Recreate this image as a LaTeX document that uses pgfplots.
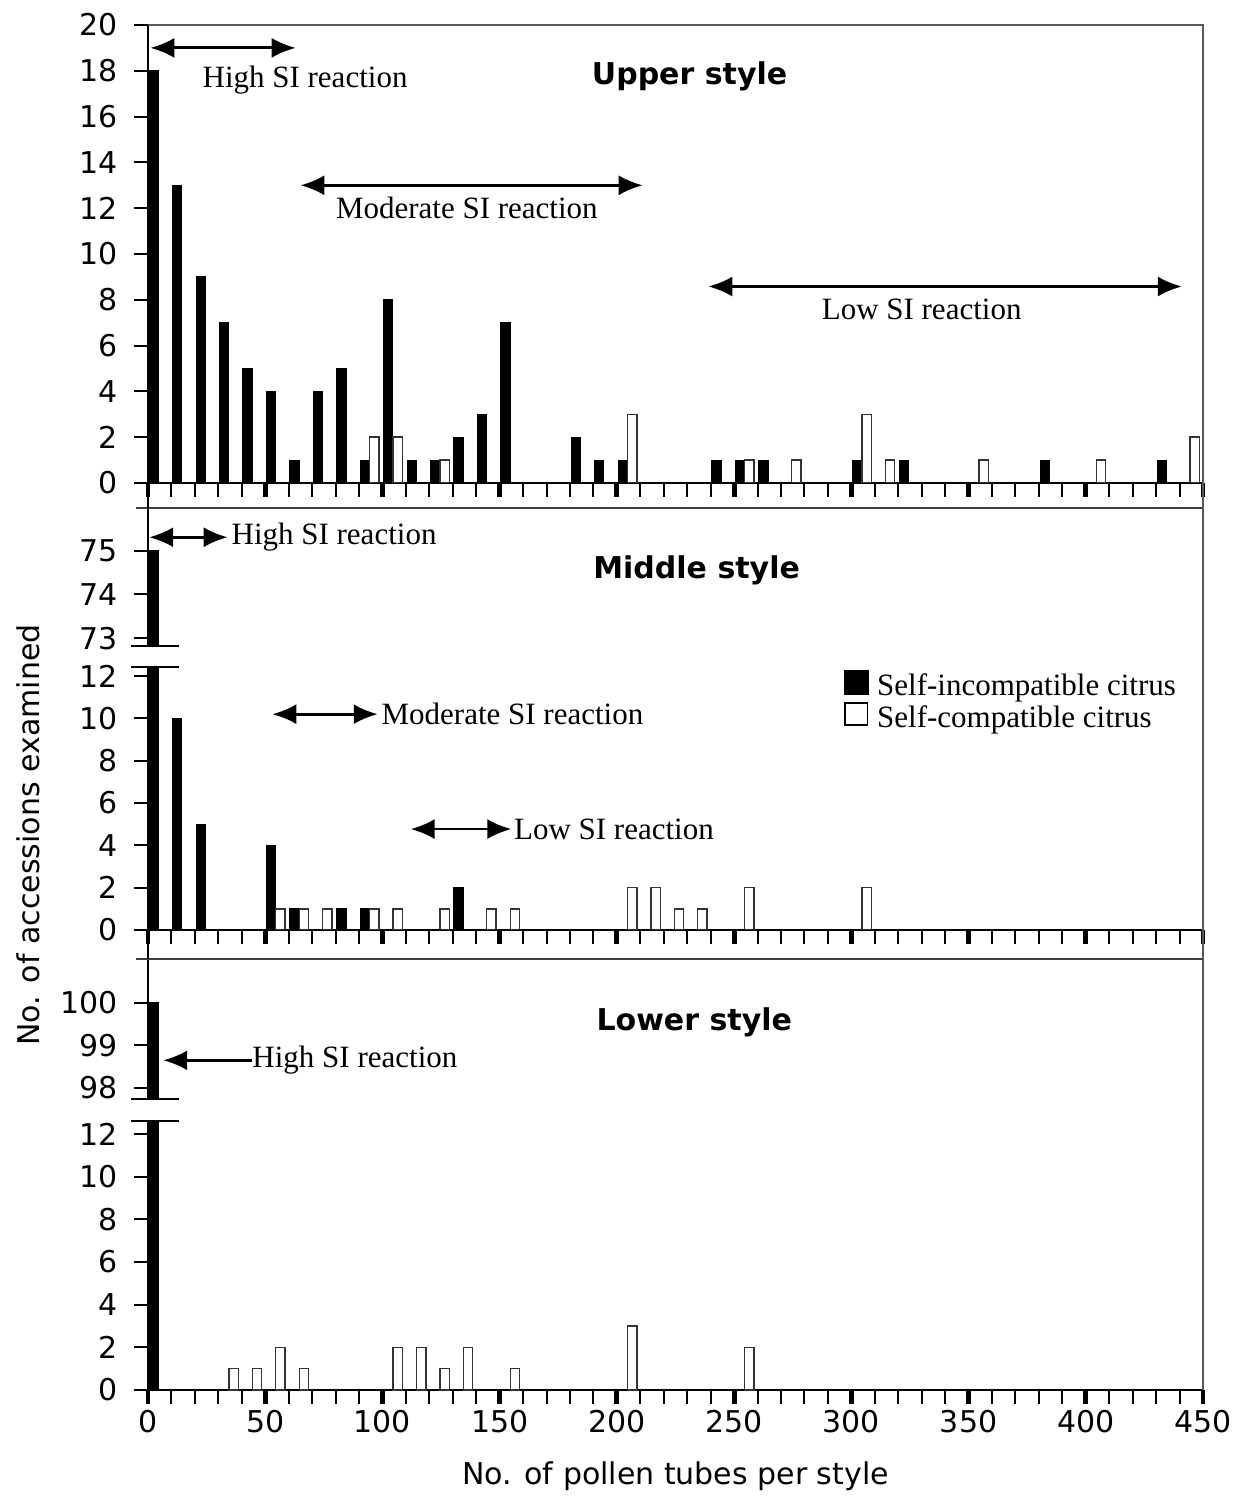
\documentclass[border=0pt]{standalone}
\usepackage{pgfplots}
\pgfplotsset{compat=1.18}
\usepackage{pgfplotstable}
\usetikzlibrary{arrows.meta}
\usepackage{fontspec}
\setmainfont{DejaVu Sans}
\newfontfamily\serif{Liberation Serif}
\newcommand{\sfs}{\fontsize{15pt}{18pt}\selectfont}
\newcommand{\srf}{\serif\fontsize{15.5pt}{18pt}\selectfont}

% bins of 10 pollen tubes: black bar at 10k+2.5, white bar at 10k+6.5
\pgfplotstableread{
x y
2.5 18
12.5 13
22.5 9
32.5 7
42.5 5
52.5 4
62.5 1
72.5 4
82.5 5
92.5 1
102.5 8
112.5 1
122.5 1
132.5 2
142.5 3
152.5 7
182.5 2
192.5 1
202.5 1
242.5 1
252.5 1
262.5 1
302.5 1
322.5 1
382.5 1
432.5 1
}\upSI
\pgfplotstableread{
x y
96.5 2
106.5 2
126.5 1
206.5 3
256.5 1
276.5 1
306.5 3
316.5 1
356.5 1
406.5 1
446.5 2
}\upSC
\pgfplotstableread{
x y
2.5 75
12.5 10
22.5 5
52.5 4
62.5 1
82.5 1
92.5 1
132.5 2
}\midSI
\pgfplotstableread{
x y
56.5 1
66.5 1
76.5 1
96.5 1
106.5 1
126.5 1
146.5 1
156.5 1
206.5 2
216.5 2
226.5 1
236.5 1
256.5 2
306.5 2
}\midSC
\pgfplotstableread{
x y
2.5 100
}\lowSI
\pgfplotstableread{
x y
36.5 1
46.5 1
56.5 2
66.5 1
106.5 2
116.5 2
126.5 1
136.5 2
156.5 1
206.5 3
256.5 2
}\lowSC

\tikzset{
  arr/.style={line width=1.4pt, {Latex[length=12pt,width=10pt]}-{Latex[length=12pt,width=10pt]}},
  larr/.style={line width=1.4pt, -{Latex[length=12pt,width=10pt]}},
}
\pgfplotsset{
  panel/.style={
    scale only axis, width=527.5pt, xmin=0, xmax=450,
    anchor=south west,
    axis x line*=bottom, axis y line*=left,
    axis line style={-, line width=0.9pt, black},
    tick align=outside,
    major tick length=7pt,
    major tick style={line width=1pt, black},
    /pgf/number format/assume math mode=true,
    tick label style={font=\sfs},
    yticklabel style={inner sep=0pt, xshift=-8pt},
    xticklabel style={inner sep=0pt, yshift=-3pt},
    clip mode=individual,
  },
  xt/.style={
    xtick={0,10,...,450}, xticklabels={},
    extra x ticks={0,50,...,450},
    extra x tick style={major tick style={line width=2.4pt, black}},
  },
  notx/.style={axis x line=none, xtick=\empty},
  si/.style={ybar, bar width=4, bar shift=0pt, fill=black, draw=black, line width=0.5pt,
    legend image code/.code={\fill[black] (0pt,-4pt) rectangle (12pt,8pt); \path[draw=none, fill=none] (0pt,0pt) rectangle (15pt,0.5pt);}},
  sc/.style={ybar, bar width=4, bar shift=0pt, fill=white, draw=black!80, line width=0.7pt,
    legend image code/.code={\draw[black, line width=0.8pt, fill=white] (0.4pt,-3.6pt) rectangle (11.6pt,7.6pt); \path[draw=none, fill=none] (0pt,0pt) rectangle (15pt,0.5pt);}},
}

\begin{document}
\begin{tikzpicture}
\useasboundingbox (0,0) rectangle (619.5pt,749.5pt);

% ---------- Upper style ----------
\begin{axis}[panel, xt, at={(74pt,508pt)}, height=229pt,
  ymin=0, ymax=20, ytick={0,2,...,20}, extra x tick labels={}]
\addplot[si] table {\upSI};
\addplot[sc] table {\upSC};
\draw[arr] (axis cs:1,19.0) -- (axis cs:63,19.0);
\node[font=\srf] at (axis cs:67,17.6) {High SI reaction};
\draw[arr] (axis cs:65,13.0) -- (axis cs:211,13.0);
\node[font=\srf] at (axis cs:136,12.0) {Moderate SI reaction};
\draw[arr] (axis cs:239,8.58) -- (axis cs:441,8.58);
\node[font=\srf] at (axis cs:330,7.57) {Low SI reaction};
\node[font=\sfs\bfseries] at (axis cs:231,17.75) {Upper style};
\end{axis}

% ---------- Middle style ----------
\begin{axis}[panel, notx, at={(74pt,426.5pt)}, height=69pt,
  ymin=72.82, ymax=75.98, ytick={73,74,75}]
\addplot[si, restrict y to domain=70:200] table {\midSI};
\draw[arr] (axis cs:0.5,75.31) -- (axis cs:34,75.31);
\node[font=\srf, anchor=west, inner sep=0pt] at (axis cs:35.5,75.31) {High SI reaction};
\node[font=\sfs\bfseries] at (axis cs:234,74.56) {Middle style};
\end{axis}

\begin{axis}[panel, xt, at={(74pt,284.5pt)}, height=131.5pt,
  ymin=0, ymax=12.43, ytick={0,2,...,12}, extra x tick labels={},
  legend style={at={(0.659,0.99)}, anchor=north west, draw=none, fill=none,
    inner sep=0pt, font=\srf, nodes={inner sep=1.5pt}, row sep=0pt},
  legend cell align=left]
\addplot[si] table {\midSI};
\addlegendentry{Self-incompatible citrus}
\addplot[sc] table {\midSC};
\addlegendentry{Self-compatible citrus}
\draw[arr] (axis cs:53,10.2) -- (axis cs:98,10.2);
\node[font=\srf, anchor=west, inner sep=0pt] at (axis cs:99.5,10.2) {Moderate SI reaction};
\draw[arr] (axis cs:112,4.77) -- (axis cs:155,4.77);
\node[font=\srf, anchor=west, inner sep=0pt] at (axis cs:156,4.77) {Low SI reaction};
\end{axis}

% ---------- Lower style ----------
\begin{axis}[panel, notx, at={(74pt,200pt)}, height=69.5pt,
  ymin=97.74, ymax=101.01, ytick={98,99,100}]
\addplot[si, restrict y to domain=90:200] table {\lowSI};
\draw[larr] (axis cs:44.4,98.65) -- (axis cs:6.5,98.65);
\node[font=\srf, anchor=west, inner sep=0pt] at (axis cs:44.4,98.65) {High SI reaction};
\node[font=\sfs\bfseries] at (axis cs:233,99.55) {Lower style};
\end{axis}

\begin{axis}[panel, xt, at={(74pt,54.5pt)}, height=134.5pt,
  ymin=0, ymax=12.61, ytick={0,2,...,12},
  extra x tick labels={0,50,100,150,200,250,300,350,400,450},
  xlabel={No. of pollen tubes per style},
  xlabel style={font=\sfs, yshift=-4pt}]
\addplot[si] table {\lowSI};
\addplot[sc] table {\lowSC};
\end{axis}

% ---------- frame, panel separators and axis breaks ----------
\draw[black!65, line width=0.9pt] (74pt,737pt) -- (601.5pt,737pt) -- (601.5pt,54.5pt);
\draw[black!75, line width=0.9pt] (68pt,495.5pt) -- (601.5pt,495.5pt);
\draw[black!75, line width=0.9pt] (68pt,270pt) -- (601.5pt,270pt);
\draw[line width=0.9pt] (74pt,508pt) -- (74pt,495.5pt);
\draw[line width=0.9pt] (74pt,284.5pt) -- (74pt,270pt);
\draw[line width=0.9pt] (65.5pt,426.5pt) -- (89.5pt,426.5pt);
\draw[line width=0.9pt] (65.5pt,416pt) -- (89.5pt,416pt);
\draw[line width=0.9pt] (65.5pt,200pt) -- (89.5pt,200pt);
\draw[line width=0.9pt] (65.5pt,189pt) -- (89.5pt,189pt);

\node[rotate=90, font=\sfs] at (14pt,332pt) {No. of accessions examined};
\end{tikzpicture}
\end{document}
